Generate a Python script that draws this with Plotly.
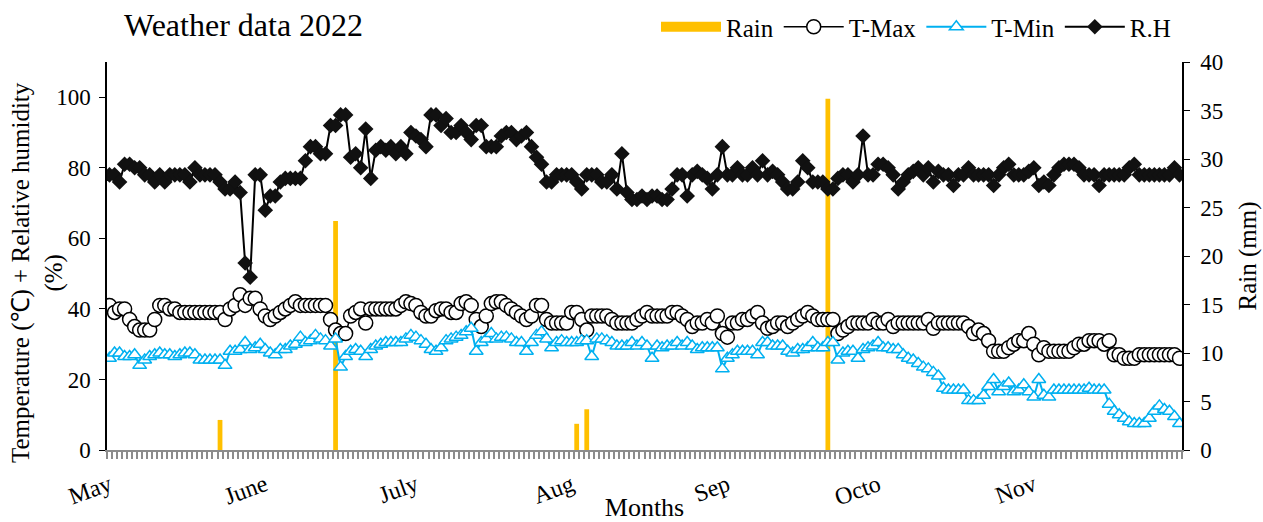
import plotly.graph_objects as go

# ---------------- data ----------------
n_days = 214  # 1 May .. 30 Nov 2022
days = list(range(n_days))

month_labels = ["May", "June", "July", "Aug", "Sep", "Octo", "Nov"]
month_start_idx = [0, 31, 61, 92, 123, 153, 184]

rain_days = [22, 45, 93, 95, 143]
rain_mm = [3.1, 23.6, 2.7, 4.2, 36.2]

rh = [78, 78, 76, 81, 81, 80, 80, 78, 78, 76,
      78, 76, 78, 78, 78, 78, 76, 80, 78, 78,
      78, 78, 76, 74, 74, 76, 73, 53, 49, 78,
      78, 68, 72, 72, 76, 77, 77, 77, 77, 82,
      86, 86, 84, 84, 92, 92, 95, 95, 83, 84,
      80, 91, 77, 85, 86, 85, 86, 84, 86, 84,
      90, 89, 88, 86, 95, 95, 92, 94, 90, 90,
      92, 90, 88, 92, 92, 86, 86, 86, 89, 90,
      90, 88, 89, 90, 86, 83, 81, 76, 76, 78,
      78, 78, 78, 76, 74, 78, 78, 78, 76, 76,
      78, 74, 84, 73, 71, 71, 72, 71, 72, 72,
      71, 71, 74, 78, 78, 72, 78, 79, 78, 77,
      74, 78, 86, 78, 78, 80, 78, 78, 80, 78,
      82, 78, 79, 78, 76, 74, 74, 76, 82, 80,
      76, 76, 76, 74, 74, 77, 78, 78, 76, 78,
      89, 78, 78, 81, 81, 80, 78, 74, 76, 78,
      79, 80, 78, 80, 76, 79, 78, 78, 75, 78,
      78, 80, 78, 78, 78, 78, 75, 78, 80, 81,
      78, 78, 78, 79, 80, 75, 76, 75, 78, 80,
      81, 81, 81, 80, 78, 78, 78, 75, 78, 78,
      78, 78, 78, 80, 81, 78, 78, 78, 78, 78,
      78, 78, 80, 78]

t_max = [41, 39, 40, 40, 37, 35, 34, 34, 34, 37,
         41, 41, 40, 40, 39, 39, 39, 39, 39, 39,
         39, 39, 39, 37, 40, 41, 44, 41, 43, 43,
         40, 38, 37, 38, 39, 40, 41, 42, 41, 41,
         41, 41, 41, 41, 37, 34, 33, 33, 38, 39,
         40, 36, 40, 40, 40, 40, 40, 40, 41, 42,
         41.5, 41, 39, 38, 38, 39.5, 40, 40, 39, 39,
         41.5, 42, 41, 37, 35, 38, 41.5, 42, 42, 41,
         40, 39, 38, 37, 38, 41, 41, 37, 36, 36,
         36, 36, 39, 39, 37, 34, 38, 38, 38, 38,
         37, 36, 36, 36, 36, 37, 38, 39, 38, 38,
         38, 38, 39, 39, 38, 37, 35, 36, 36, 37,
         36, 38, 33, 32, 36, 36, 37, 37, 38, 39,
         36, 34.5, 35, 36, 36, 35, 36, 37, 38, 39,
         38, 37, 37, 37, 37, 33, 34, 35, 36, 36,
         36, 36, 37, 36, 36, 37, 35, 36, 36, 36,
         36, 36, 36, 37, 34.5, 36, 36, 36, 36, 36,
         36, 35, 33, 34, 33, 31, 28, 28, 28, 29,
         30, 31, 31, 33, 30, 27, 29, 28, 28, 28,
         28, 28, 29, 30, 30, 31, 31, 31, 30, 31,
         27, 27, 26, 26, 26, 27, 27, 27, 27, 27,
         27, 27, 27, 26]

t_min = [26, 27.5, 27.5, 26.5, 26.5, 27, 24, 25.5, 26.5, 27,
         27.5, 27, 27, 26.5, 27, 27.5, 27.5, 27, 25.5, 25.5,
         25.5, 25.5, 25.5, 24, 28, 28, 28.5, 30.5, 28.5, 29,
         30, 28.5, 27.5, 27, 28.5, 28.5, 29.5, 30, 32, 30.5,
         31, 32.5, 31.5, 31, 29.5, 31.5, 23.5, 26.5, 28, 28.5,
         28, 26.5, 28.5, 29.5, 30, 30.5, 30.5, 30.5, 30.5, 31.5,
         32.5, 32, 31, 30, 28.5, 28, 29, 31, 31.5, 32,
         32.5, 33.5, 34.5, 28, 30.5, 31.5, 33, 31.5, 32, 32,
         31.5, 30.5, 30.5, 28, 30.5, 32.5, 33.5, 31.5, 29, 30.5,
         31, 30.5, 30.5, 30.5, 31, 31, 26.5, 31.5, 31.5, 31,
         30.5, 29.5, 29.5, 29.5, 30.5, 29.5, 30.5, 29.5, 26, 29.5,
         29, 29.5, 29.5, 30.5, 29.5, 30.5, 29.5, 28.5, 29, 29,
         29, 29, 23, 26, 27, 28, 28, 28, 28, 27,
         30.5, 30.5, 29.5, 29.5, 29.5, 28, 27.5, 28.5, 28.5, 29,
         30.5, 29, 29, 30.5, 30.5, 25.5, 27.5, 28, 28, 26,
         28.5, 29, 29.5, 30.5, 29, 29, 28.5, 28.5, 27, 26,
         25.5, 24.5, 23.5, 23, 22, 21, 17.5, 17, 17, 17,
         17, 14, 14, 14, 15.5, 18, 20, 16.5, 18, 19,
         16.5, 17, 18.5, 16.5, 15, 20, 15.5, 15, 17, 17,
         17, 17, 17, 17, 17, 17.5, 17, 17, 17, 13,
         11, 10, 9, 8, 7.5, 7.5, 7.5, 9, 11, 12.5,
         11.5, 11, 9.5, 7.5]

left_ticks = [0, 20, 40, 60, 80, 100]
right_ticks = [0, 5, 10, 15, 20, 25, 30, 35, 40]

# ---------------- figure ----------------
FONT = "Liberation Serif"
W, H = 1263, 522
L, R, T, B = 107, 81, 62, 72
PW, PH = W - L - R, H - T - B
RAIN_COLOR = "#FFC000"
TMIN_COLOR = "#00B0F0"

fig = go.Figure()

# rain bars (legend shown through a wide swatch proxy below)
fig.add_trace(go.Bar(
    x=rain_days, y=rain_mm, name="Rain", yaxis="y", legendgroup="rain",
    showlegend=False,
    marker=dict(color=RAIN_COLOR, line=dict(width=0)), width=0.95,
))
fig.add_trace(go.Scatter(
    x=[None], y=[None], name="Rain", yaxis="y", legendgroup="rain",
    mode="lines", line=dict(color=RAIN_COLOR, width=14), hoverinfo="skip",
))
fig.add_trace(go.Scatter(
    x=days, y=t_max, name="T-Max", yaxis="y2", mode="lines+markers",
    line=dict(color="black", width=1.5),
    marker=dict(symbol="circle", size=14, color="white",
                line=dict(color="black", width=1.5)),
))
fig.add_trace(go.Scatter(
    x=days, y=t_min, name="T-Min", yaxis="y2", mode="lines+markers",
    line=dict(color=TMIN_COLOR, width=2),
    marker=dict(symbol="triangle-up", size=12, color="white",
                line=dict(color=TMIN_COLOR, width=1.5)),
))
fig.add_trace(go.Scatter(
    x=days, y=rh, name="R.H", yaxis="y2", mode="lines+markers",
    line=dict(color="black", width=2),
    marker=dict(symbol="diamond", size=12, color="#111111",
                line=dict(color="#111111", width=0)),
))

fig.update_layout(
    template="none",
    width=W, height=H,
    margin=dict(l=L, r=R, t=T, b=B, pad=0, autoexpand=False),
    paper_bgcolor="white", plot_bgcolor="white",
    font=dict(family=FONT, color="black", size=22),
    title=dict(text="Weather data 2022", x=124 / W, xanchor="left",
               y=1 - 25 / H, yanchor="middle",
               font=dict(family=FONT, size=32, color="black")),
    showlegend=True,
    legend=dict(orientation="h", xref="container", x=656 / W, xanchor="left",
                yref="container", y=1 - 27 / H, yanchor="middle",
                font=dict(family=FONT, size=25), bgcolor="rgba(0,0,0,0)",
                itemwidth=60, tracegroupgap=0, traceorder="normal"),
    bargap=0.05,
    xaxis=dict(
        range=[-0.5, n_days - 0.5], anchor="y",
        tickmode="array", tickvals=month_start_idx, ticktext=month_labels,
        tickangle=-20, ticks="", showline=True, linecolor="#8c8c8c",
        linewidth=1.5, showgrid=False, zeroline=False,
        tickfont=dict(family=FONT, size=24),
        ticklabelstandoff=10,
        minor=dict(tickmode="array",
                   tickvals=[d - 0.5 for d in range(n_days + 1)],
                   ticks="outside", ticklen=7, tickcolor="#8c8c8c",
                   tickwidth=1.5, showgrid=False),
        title=dict(text="Months", font=dict(family=FONT, size=26), standoff=0),
    ),
    yaxis=dict(
        side="right", range=[0, 40], tickmode="array", tickvals=right_ticks,
        ticks="outside", ticklen=6, tickcolor="black", showline=True,
        linecolor="black", linewidth=1.5, showgrid=False, zeroline=False,
        tickfont=dict(family=FONT, size=23), ticklabelstandoff=6,
        title=dict(text="Rain (mm)", font=dict(family=FONT, size=25), standoff=16),
    ),
    yaxis2=dict(
        overlaying="y", side="left", range=[0, 110], tickmode="array",
        tickvals=left_ticks, ticks="outside", ticklen=6, tickcolor="black",
        showline=True, linecolor="black", linewidth=1.5, showgrid=False,
        zeroline=False, tickfont=dict(family=FONT, size=23), ticklabelstandoff=4,
    ),
    annotations=[dict(
        text="Temperature (\u2103) + Relative humidity<br>(%)",
        xref="paper", yref="paper",
        x=(37 - L) / PW, y=(H - B - 273) / PH,
        xanchor="center", yanchor="middle", textangle=-90, showarrow=False,
        font=dict(family=FONT, size=25, color="black"),
    )],
)

fig.write_html("out.html")
